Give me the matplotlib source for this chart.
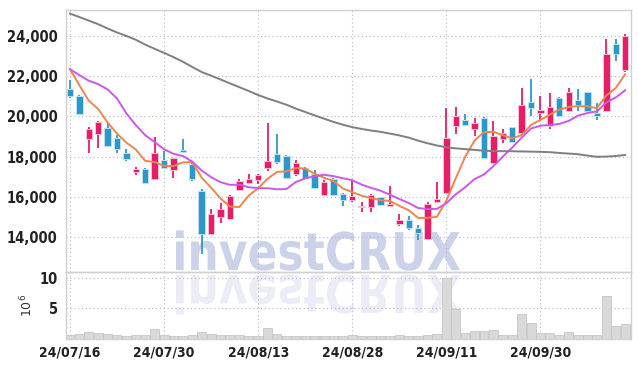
import matplotlib
matplotlib.use('Agg')
import matplotlib.pyplot as plt
import matplotlib.transforms as mtransforms
from matplotlib.textpath import TextPath
from matplotlib.patches import PathPatch
from matplotlib.font_manager import FontProperties
import numpy as np

dates = ['24/07/16', '24/07/17', '24/07/18', '24/07/19', '24/07/22', '24/07/23', '24/07/24', '24/07/25', '24/07/26', '24/07/29',
         '24/07/30', '24/07/31', '24/08/01', '24/08/02', '24/08/05', '24/08/06', '24/08/07', '24/08/08', '24/08/09', '24/08/12',
         '24/08/13', '24/08/14', '24/08/16', '24/08/19', '24/08/20', '24/08/21', '24/08/22', '24/08/23', '24/08/26', '24/08/27',
         '24/08/28', '24/08/29', '24/08/30', '24/09/02', '24/09/03', '24/09/04', '24/09/05', '24/09/06', '24/09/09', '24/09/10',
         '24/09/11', '24/09/12', '24/09/13', '24/09/19', '24/09/20', '24/09/23', '24/09/24', '24/09/25', '24/09/26', '24/09/27',
         '24/09/30', '24/10/02', '24/10/04', '24/10/07', '24/10/08', '24/10/10', '24/10/11', '24/10/14', '24/10/15', '24/10/16']

opens = [21355, 21010, 18890, 19140, 19420, 18920, 18180, 17270, 17390, 16910,
         17835, 17370, 18330, 17640, 16300, 14150, 15020, 14920, 16370, 16700,
         16830, 17430, 18120, 18020, 17130, 17460, 17130, 16110, 16880, 16140,
         15850, 15490, 15520, 15985, 15570, 14680, 14865, 14490, 13910, 15770,
         16230, 19540, 19835, 19375, 19900, 17670, 18905, 19470, 19190, 20720,
         20165, 19540, 20920, 20260, 20820, 21210, 20165, 20260, 23610, 22300]
closes = [21025, 20100, 19370, 19720, 18530, 18400, 17900, 17390, 16710, 18165,
          17420, 17920, 18240, 16880, 14150, 15150, 15400, 16040, 16800, 16880,
          17080, 17770, 17740, 16950, 17690, 16970, 16470, 16735, 16110, 15845,
          16080, 15570, 16130, 15620, 15650, 14865, 14470, 14240, 15650, 15900,
          18910, 20000, 19570, 19690, 17930, 19020, 19160, 18740, 20560, 20395,
          20300, 20460, 20000, 21210, 20590, 20265, 20000, 23115, 23080, 23970]
highs = [21800, 21050, 19490, 19770, 19650, 19090, 18410, 17470, 17420, 18990,
         18300, 17950, 18860, 17750, 16380, 15400, 15730, 16125, 16915, 17130,
         17160, 19670, 19140, 18070, 17820, 17490, 17330, 16830, 16965, 16207,
         16870, 15740, 16150, 16020, 16560, 15160, 15060, 14620, 15750, 16760,
         20430, 20490, 20130, 19900, 19970, 19755, 19380, 19500, 21430, 21870,
         21000, 21180, 20950, 21390, 21345, 21214, 20690, 23840, 23840, 24100]
lows = [20890, 20070, 18170, 18460, 18490, 18200, 17800, 17090, 16680, 16840,
        17390, 16925, 18200, 16810, 13200, 14100, 14720, 14855, 16305, 16640,
        16670, 17300, 17660, 16920, 17060, 16880, 16420, 16040, 16060, 15560,
        15770, 15260, 15280, 15560, 15555, 14570, 14370, 13880, 13880, 15690,
        16180, 19110, 19505, 19030, 17890, 17650, 18690, 18720, 19180, 20000,
        19755, 19380, 19970, 20230, 20265, 20250, 19805, 20250, 22750, 22210]

# volume in millions of shares
volume = [0.5, 0.7, 1.05, 0.88, 0.7, 0.5, 0.45, 0.65, 0.5, 1.55,
          0.5, 0.45, 0.45, 0.5, 1.05, 0.7, 0.55, 0.55, 0.5, 0.4,
          0.4, 1.7, 0.7, 0.4, 0.4, 0.4, 0.4, 0.4, 0.4, 0.4,
          0.5, 0.4, 0.4, 0.4, 0.4, 0.5, 0.4, 0.4, 0.5, 0.8,
          10.0, 4.9, 0.95, 1.3, 1.3, 1.45, 0.65, 0.5, 4.15, 2.5,
          0.95, 0.95, 0.65, 1.15, 0.65, 0.65, 0.65, 7.1, 2.0, 2.35]

ma5 = [22340, 21550, 20780, 20370, 19700, 19150, 18700, 18360, 17800, 17740,
       17550, 17540, 17720, 17740, 16960, 16470, 15940, 15530, 15510, 16080,
       16440, 16910, 17250, 17280, 17440, 17420, 17160, 16960, 16800, 16430,
       16250, 16070, 15950, 15850, 15810, 15570, 15350, 14970, 14975, 15025,
       15830, 16940, 18000, 18810, 19220, 19240, 19070, 18910, 19080, 19580,
       19830, 20090, 20340, 20470, 20510, 20500, 20410, 21040, 21410, 22090]
ma10 = [22340, 22050, 21770, 21600, 21340, 20890, 20150, 19570, 19070, 18730,
        18370, 18150, 18040, 17760, 17320, 16990, 16740, 16610, 16620, 16490,
        16450, 16440, 16390, 16400, 16750, 16930, 17040, 17110, 17040, 16940,
        16840, 16620, 16460, 16320, 16120, 15910, 15710, 15460, 15410, 15420,
        15700, 16140, 16490, 16900, 17120, 17540, 18010, 18460, 18950, 19400,
        19540, 19580, 19630, 19780, 20040, 20170, 20250, 20690, 20940, 21300]
ma60 = [25100, 24925, 24750, 24570, 24360, 24160, 23990, 23800, 23560, 23350,
        23150, 22940, 22710, 22450, 22200, 22020, 21830, 21640, 21450, 21260,
        21060, 20890, 20740, 20580, 20390, 20220, 20050, 19890, 19730, 19590,
        19470, 19380, 19300, 19240, 19150, 19060, 18950, 18800, 18670, 18560,
        18470, 18420, 18380, 18340, 18300, 18280, 18277, 18275, 18265, 18255,
        18245, 18230, 18190, 18160, 18125, 18060, 18000, 18010, 18040, 18090]

tick_idx = [0, 10, 20, 30, 40, 50]

W, H = 639, 366
fig = plt.figure(figsize=(W / 100, H / 100), dpi=100)
fig.patch.set_facecolor('white')
ax = fig.add_axes([66 / W, 1 - 272 / H, (631 - 66) / W, (272 - 9.5) / H])
ax2 = fig.add_axes([66 / W, 1 - 338.5 / H, (631 - 66) / W, (338.5 - 272) / H], sharex=ax)

lab_font = FontProperties(family='DejaVu Sans', stretch='condensed', weight='bold', size=10.5)
x_font = FontProperties(family='DejaVu Sans', stretch='condensed', weight='bold', size=10)
up_c = '#e61d67'
dn_c = '#2e97c9'

x = np.arange(len(dates))
o = np.array(opens)
c = np.array(closes)
cols = [up_c if cc >= oo else dn_c for oo, cc in zip(o, c)]
edge = ['#f6c3d6' if cc >= oo else '#bfdff0' for oo, cc in zip(o, c)]

ax.vlines(x, lows, highs, color=cols, lw=1.3, zorder=2)
body = np.maximum(np.abs(c - o), 60)
ax.bar(x, body, bottom=np.minimum(o, c), width=0.68, color=cols,
       edgecolor=edge, linewidth=0.7, zorder=3)

ax.plot(x, ma5, color='#ef8550', lw=1.4, zorder=4)
ax.plot(x, ma10, color='#cc58ea', lw=1.4, zorder=4)
ax.plot(x, ma60, color='#7f7f7f', lw=1.4, zorder=4)

ax.set_xlim(-0.42, 59.62)
ax.set_ylim(12290, 25300)
ax.set_yticks(range(14000, 24001, 2000))
ax.set_yticklabels(['{:,}'.format(v) for v in range(14000, 24001, 2000)])

ax2.bar(x, volume, width=0.95, color='#d9d9d9', edgecolor='#c6c6c6', linewidth=0.6, zorder=2)
ax2.set_ylim(0, 11.05)
ax2.set_yticks([5, 10])
ax2.set_xticks(tick_idx)
ax2.set_xticklabels([dates[i] for i in tick_idx])
ax2.set_ylabel(r'$10^6$', fontsize=9, color='#333333', labelpad=3)

for a in (ax, ax2):
    a.set_facecolor('none')
    a.grid(True, linestyle=(0, (1, 2.5)), color='#b4b6d2', lw=0.8, zorder=0)
    a.tick_params(length=0, pad=6, colors='#222222')
    for s in a.spines.values():
        s.set_color('#d0d0d0')
        s.set_linewidth(1.0)
    for t in a.get_yticklabels():
        t.set_fontproperties(lab_font)
for t in ax2.get_xticklabels():
    t.set_fontproperties(x_font)
ax.tick_params(labelbottom=False)
ax2.tick_params(axis='x', pad=5)

# watermark with its reflection
fp = FontProperties(family='DejaVu Sans', weight='bold')
tp = TextPath((0, 0), 'investCRUX', size=1, prop=fp)
bb = tp.get_extents()
sx = (460 - 176) / bb.width
sy = 38 / 0.73
to_fig = mtransforms.Affine2D().scale(1 / W, 1 / H) + fig.transFigure
tr_main = mtransforms.Affine2D().translate(-bb.x0, 0).scale(sx, sy).translate(176, H - 270) + to_fig
tr_ref = mtransforms.Affine2D().translate(-bb.x0, 0).scale(sx, -sy).translate(176, H - 275) + to_fig
fig.add_artist(PathPatch(tp, transform=tr_main, facecolor='#ccd2e9', edgecolor='none', zorder=-5))
fig.add_artist(PathPatch(tp, transform=tr_ref, facecolor='#ebecf5', edgecolor='none', zorder=-5))

fig.savefig('out.png', dpi=100)
